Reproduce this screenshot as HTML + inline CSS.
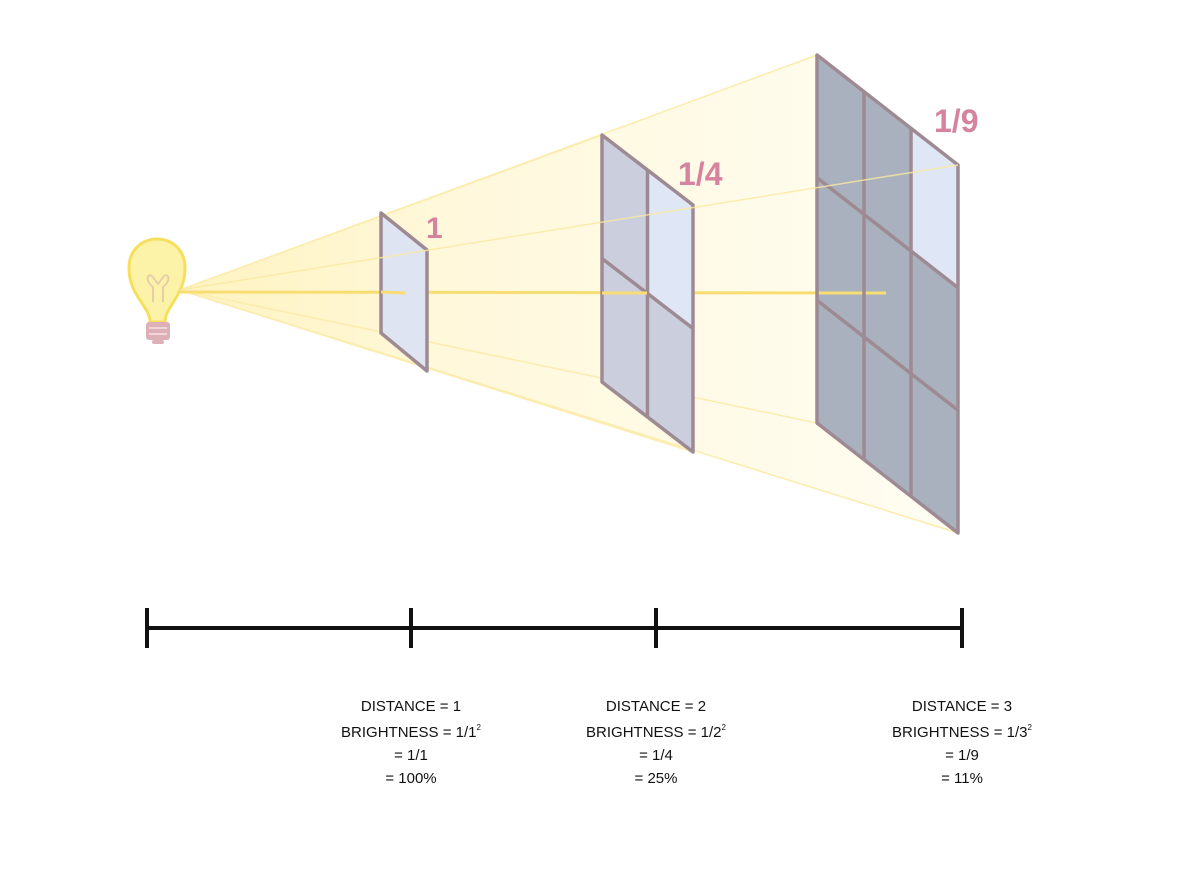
<!DOCTYPE html>
<html><head><meta charset="utf-8"><style>
html,body{margin:0;padding:0;background:#fff;}
svg{display:block}
text{font-family:"Liberation Sans",sans-serif}
</style></head><body>
<svg width="1200" height="870" viewBox="0 0 1200 870" xmlns="http://www.w3.org/2000/svg">
<defs>
<linearGradient id="fan" x1="180" y1="0" x2="958" y2="0" gradientUnits="userSpaceOnUse">
<stop offset="0" stop-color="#fff3c0"/>
<stop offset="0.35" stop-color="#fff8db"/>
<stop offset="1" stop-color="#fffdf3"/>
</linearGradient>
</defs>
<rect width="1200" height="870" fill="#fff"/>
<!-- light fan -->
<polygon points="180,290 817,55 958,165 958,533" fill="url(#fan)"/>
<g stroke="#fcecae" stroke-width="1.5" fill="none">
<line x1="180" y1="290" x2="817" y2="55"/>
<line x1="180" y1="290" x2="958" y2="533"/>
<line x1="180" y1="290" x2="602" y2="135"/>
<line x1="180" y1="290" x2="817" y2="423"/>
<line x1="180" y1="290" x2="693" y2="452"/>
</g>
<!-- bulb -->
<g>
<path d="M150,322 C150,306 129,296 129,268 C129,249 143,239 157,239 C171,239 185,249 185,268 C185,296 165,306 165,322 Z" fill="#fdf3a8" stroke="#f7df5e" stroke-width="3"/>
<path d="M153,302 L153,287 C146,282 146,273 152,276 L158,284 L164,276 C170,273 170,282 163,287 L163,302" fill="none" stroke="#e6cfa8" stroke-width="2"/>
<rect x="146" y="322" width="24" height="18" rx="3" fill="#ddb0b8"/>
<line x1="149" y1="328" x2="167" y2="328" stroke="#f0d5da" stroke-width="2"/>
<line x1="149" y1="334" x2="167" y2="334" stroke="#f0d5da" stroke-width="2"/>
<rect x="152" y="340" width="12" height="4" rx="2" fill="#ddb0b8"/>
</g>
<line x1="180" y1="292" x2="886" y2="293" stroke="#f8de72" stroke-width="3"/>
<!-- panel 1 -->
<polygon points="381,213 427,250 427,371 381,333" fill="#dfe4f2" stroke="#9e8a92" stroke-width="3.5" stroke-linejoin="round"/>
<line x1="381" y1="292" x2="405" y2="293" stroke="#f8de72" stroke-width="3"/>
<!-- panel 2 -->
<polygon points="602,135 693,205 693,452 602,382" fill="#cbcfdd"/>
<polygon points="647.5,170 693,205 693,328.5 647.5,293.5" fill="#dfe6f5"/>
<g stroke="#9e8a92" stroke-width="3.5" fill="none" stroke-linejoin="round">
<polygon points="602,135 693,205 693,452 602,382"/>
<line x1="647.5" y1="170" x2="647.5" y2="417"/>
<line x1="602" y1="258.5" x2="693" y2="328.5"/>
</g>
<line x1="602" y1="293" x2="647" y2="293" stroke="#f8de72" stroke-width="3"/>
<!-- panel 3 -->
<polygon points="817,55 958,165 958,533 817,423" fill="#a9b1be"/>
<polygon points="911,128.3 958,165 958,287.7 911,251" fill="#dfe6f5"/>
<line x1="817" y1="293" x2="886" y2="293" stroke="#f8de72" stroke-width="3"/>
<g stroke="#9e8a92" stroke-width="3.5" fill="none" stroke-linejoin="round">
<polygon points="817,55 958,165 958,533 817,423"/>
<line x1="864" y1="91.7" x2="864" y2="459.7"/>
<line x1="911" y1="128.3" x2="911" y2="496.3"/>
<line x1="817" y1="177.7" x2="958" y2="287.7"/>
<line x1="817" y1="300.3" x2="958" y2="410.3"/>
</g>
<line x1="180" y1="290" x2="958" y2="165" stroke="#fbe9a0" stroke-width="1.5" opacity="0.8"/>
<!-- labels -->
<g fill="#d6839f" font-weight="bold">
<text x="426" y="238" font-size="30">1</text>
<text x="678" y="185" font-size="32">1/4</text>
<text x="934" y="132" font-size="32">1/9</text>
</g>
<!-- axis -->
<g stroke="#111" stroke-width="4">
<line x1="147" y1="628" x2="962" y2="628"/>
<line x1="147" y1="608" x2="147" y2="648"/>
<line x1="411" y1="608" x2="411" y2="648"/>
<line x1="656" y1="608" x2="656" y2="648"/>
<line x1="962" y1="608" x2="962" y2="648"/>
</g>
<g font-size="15" fill="#111" text-anchor="middle">
<text x="411" y="711">DISTANCE = 1</text>
<text x="411" y="737">BRIGHTNESS = 1/1<tspan font-size="8" dy="-7">2</tspan></text>
<text x="411" y="760">= 1/1</text>
<text x="411" y="783">= 100%</text>
<text x="656" y="711">DISTANCE = 2</text>
<text x="656" y="737">BRIGHTNESS = 1/2<tspan font-size="8" dy="-7">2</tspan></text>
<text x="656" y="760">= 1/4</text>
<text x="656" y="783">= 25%</text>
<text x="962" y="711">DISTANCE = 3</text>
<text x="962" y="737">BRIGHTNESS = 1/3<tspan font-size="8" dy="-7">2</tspan></text>
<text x="962" y="760">= 1/9</text>
<text x="962" y="783">= 11%</text>
</g>
</svg>
</body></html>
